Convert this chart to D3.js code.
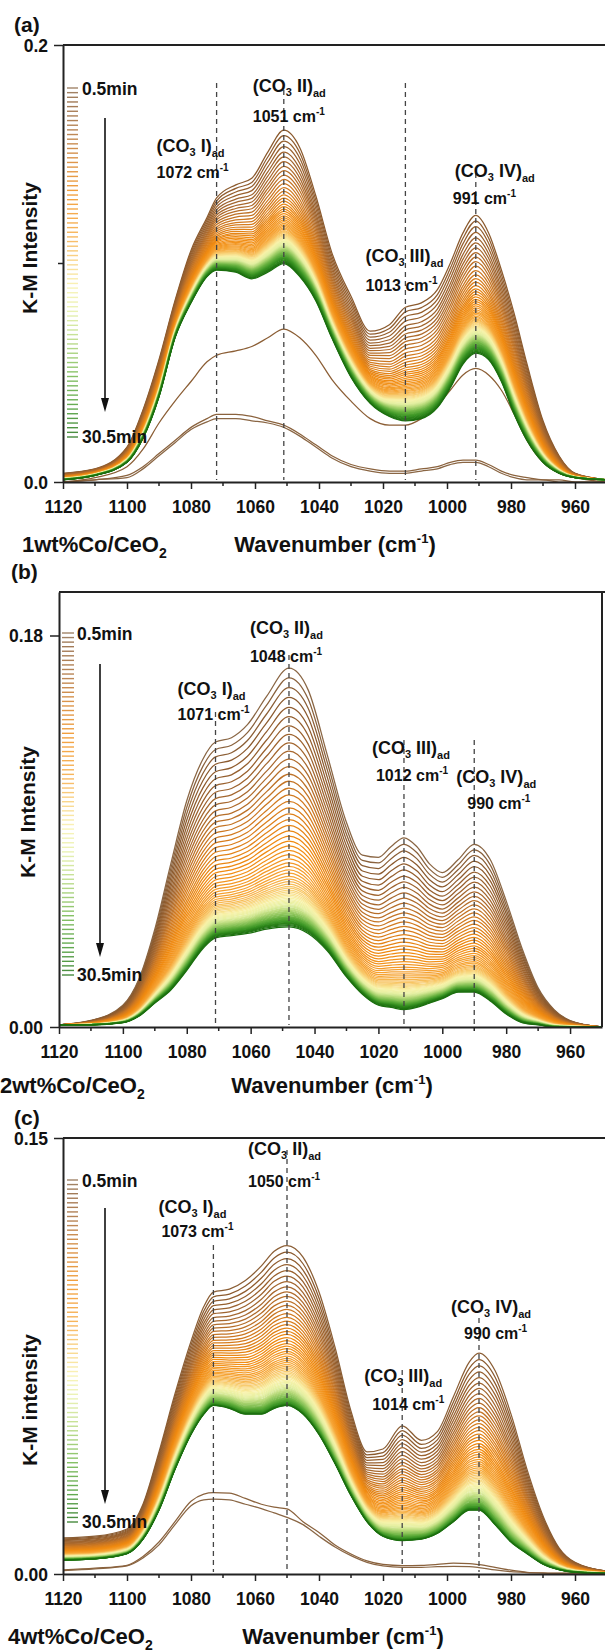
<!DOCTYPE html>
<html>
<head>
<meta charset="utf-8">
<script src="https://cdn.jsdelivr.net/npm/d3@7"></script>
<style>
  body { margin: 0; background: #fff; }
  svg text { font-family: Arial, "Liberation Sans", sans-serif; font-weight: bold; fill: #111; }
</style>
</head>
<body>
<svg id="chart" width="605" height="1652"></svg>
<script>
// ---------- data ----------
// (a) 1wt%Co/CeO2
var wavesA = [1120,1110,1100,1095,1090,1085,1080,1075,1072,1066,1061,1056,1051,1046,1041,1036,1030,1024,1018,1013,1008,1003,999,995,991,987,983,979,975,970,965,960,950];
var topA = [.004,.006,.016,.033,.056,.083,.106,.121,.130,.136,.139,.151,.161,.153,.131,.105,.085,.069,.072,.080,.082,.088,.100,.114,.122,.114,.097,.077,.054,.028,.012,.004,.001];
var endA = [.001,.003,.009,.020,.039,.066,.082,.094,.097,.096,.093,.096,.100,.094,.083,.066,.048,.036,.030,.028,.029,.034,.043,.054,.059,.056,.046,.031,.019,.009,.004,.002,.001];
var lowA1 = [0,.001,.002,.006,.012,.018,.024,.0275,.029,.029,.028,.027,.025,.021,.016,.011,.007,.005,.004,.004,.005,.006,.008,.009,.009,.007,.004,.002,.001,.001,0,0,0];
var lowA2 = [0,.001,.003,.007,.013,.019,.025,.029,.031,.031,.030,.028,.026,.022,.017,.012,.008,.006,.005,.005,.006,.007,.009,.010,.010,.008,.005,.003,.002,.001,.001,0,0];
var lowA3 = [0,.002,.007,.015,.027,.037,.046,.055,.058,.060,.062,.066,.070,.066,.058,.047,.037,.029,.026,.026,.029,.035,.042,.049,.052,.049,.042,.031,.019,.009,.004,.002,0];
// height of every later spectrum at 1051 cm-1, 30.5 min last
var peaksA = [0.161,0.1585,0.156,0.1535,0.151,0.1488,0.1466,0.1445,0.1425,0.1405,0.1385,0.1365,
  0.1347,0.1330,0.1314,0.1299,0.1285,0.1272,0.1260,0.1249,0.1238,0.1228,0.1218,0.1209,0.1200,0.1192,0.1184,0.1177,0.1170,0.1163,0.1157,0.1151,0.1146,0.1141,
  0.1136,0.1131,0.1126,0.1121,0.1116,0.1112,0.1108,0.1104,0.1100,0.1096,0.1092,0.1088,
  0.1084,0.1080,0.1077,0.1074,0.1071,0.1068,0.1065,0.1062,0.1059,0.1056,0.1053,0.1050,0.1047,0.1044,
  0.1041,0.1038,0.1035,0.1032,0.1029,0.1026,0.1023,0.1020,0.1016,0.1012,0.1008,0.1004,0.1000];
var bandsA = [1072, 1051, 1013, 991];

// (b) 2wt%Co/CeO2
var wavesB = [1120,1110,1100,1095,1090,1085,1080,1075,1071,1066,1061,1055,1048,1042,1036,1030,1025,1020,1016,1012,1008,1004,1000,995,990,985,980,975,970,965,960,950];
var topB = [.001,.003,.010,.022,.045,.075,.104,.123,.131,.133,.139,.152,.165,.155,.125,.094,.079,.078,.083,.087,.083,.075,.071,.077,.084,.077,.058,.036,.018,.008,.003,0];
var endB = [.001,.001,.002,.005,.011,.017,.026,.036,.041,.042,.043,.045,.046,.043,.035,.023,.015,.010,.009,.008,.009,.011,.013,.016,.016,.012,.006,.002,.001,0,0,0];
// height of every spectrum at 1048 cm-1
var peaksB = [0.165,0.1605,0.156,0.1515,0.147,0.1427,0.1385,0.1345,0.1306,0.1268,0.1232,0.1197,0.1163,0.1130,0.1098,
  0.1067,0.1037,0.1008,0.0980,0.0953,0.0927,0.0902,0.0878,0.0855,0.0833,0.0812,0.0792,0.0773,0.0755,0.0738,0.0722,0.0707,0.0693,0.0680,0.0668,0.0657,0.0647,
  0.0638,0.0629,0.0621,0.0613,0.0606,0.0599,0.0592,0.0586,0.0580,0.0574,0.0568,0.0563,
  0.0558,0.0553,0.0548,0.0544,0.0540,0.0536,0.0532,0.0528,0.0524,0.0520,0.0516,0.0512,0.0508,0.0505,
  0.0502,0.0499,0.0496,0.0493,0.0490,0.0487,0.0484,0.0481,0.0478,0.0475,0.0471,0.0466,0.0460];
var bandsB = [1071, 1048, 1012, 990];

// (c) 4wt%Co/CeO2
var wavesC = [1120,1110,1100,1095,1090,1085,1080,1076,1073,1068,1063,1058,1054,1050,1045,1040,1035,1030,1025,1020,1014,1008,1003,998,993,990,985,980,975,970,965,960,950];
var topC = [.0124,.013,.0155,.024,.042,.062,.080,.092,.097,.098,.101,.106,.111,.113,.109,.097,.078,.056,.042,.043,.051,.046,.049,.061,.073,.076,.070,.055,.036,.020,.009,.004,.001];
var endC = [.0048,.0052,.007,.012,.022,.036,.048,.055,.058,.057,.055,.055,.057,.058,.055,.048,.038,.027,.018,.013,.0115,.012,.014,.018,.022,.022,.017,.011,.007,.0034,.0015,.0006,.0002];
var lowC1 = [.0012,.0018,.0028,.0055,.010,.017,.0235,.0255,.0258,.0255,.024,.0225,.021,.0195,.017,.013,.0093,.0063,.004,.0028,.0023,.0023,.0025,.0026,.0025,.0022,.0014,.0008,.0005,.0003,.0002,.0002,.0001];
var lowC2 = [.0014,.002,.003,.006,.011,.018,.025,.0275,.028,.0278,.026,.024,.023,.0224,.018,.0143,.010,.0069,.0045,.0033,.0029,.003,.0033,.0037,.0036,.0032,.0023,.0013,.0006,.0004,.0003,.0003,.0002];
// height of every later spectrum at 1050 cm-1
var peaksC = [0.113,0.1107,0.1085,0.1064,0.1044,0.1025,0.1006,0.0988,0.0971,0.0955,0.0939,0.0924,0.0910,
  0.0896,0.0883,0.0870,0.0858,0.0846,0.0835,0.0824,0.0813,0.0803,0.0793,0.0784,0.0775,0.0766,0.0758,0.0750,0.0742,0.0735,0.0728,0.0721,0.0715,0.0709,0.0703,
  0.0697,0.0692,0.0687,0.0682,0.0677,0.0672,0.0667,0.0663,0.0659,0.0655,0.0651,0.0647,
  0.0643,0.0639,0.0635,0.0632,0.0629,0.0626,0.0623,0.0620,0.0617,0.0614,0.0611,0.0608,0.0605,0.0603,
  0.0601,0.0599,0.0597,0.0595,0.0593,0.0591,0.0589,0.0587,0.0585,0.0584,0.0583,0.0581,0.0580];
var bandsC = [1073, 1050, 1014, 990];

var xTicks = [1120,1100,1080,1060,1040,1020,1000,980,960];

// ---------- styles ----------
var colorPos = [0, 0.04, 0.12, 0.2, 0.3, 0.42, 0.5, 0.57, 0.64, 0.72, 0.82, 0.92, 1];
var colorHex = ['#8a6644','#8b5a2e','#a8682e','#d27a1f','#f08a10','#f6a435','#f8d075','#f8f2a8','#e4efa2','#b2d776','#6cb443','#3a9424','#1b6e0e'];
var timeColor = d3.scaleLinear().domain(colorPos).range(colorHex).interpolate(d3.interpolateRgb);

var svg = d3.select('#chart');
var defs = svg.append('defs');

function subText(sel, parts) {
  // parts: [text, kind, shift, size]; kind '', 'sub' or 'sup'
  var shift = 0;
  parts.forEach(function(p) {
    var t = sel.append('tspan').text(p[0]);
    var want = p[1] === 'sub' ? p[2] : p[1] === 'sup' ? -p[2] : 0;
    if (want !== shift) { t.attr('dy', want - shift); shift = want; }
    if (p[1]) t.attr('font-size', p[3]);
  });
}

function drawPanel(p) {
  var x = d3.scaleLinear().domain([1120, 950]).range([p.left, p.right]);
  var y = d3.scaleLinear().domain([0, p.yMax]).range([p.bottom, p.top]);
  var g = svg.append('g');

  defs.append('clipPath').attr('id', 'clip' + p.id)
    .append('rect').attr('x', p.left).attr('y', p.top)
    .attr('width', p.right - p.left).attr('height', p.bottom - p.top);

  // spectra: early ones as read, later ones placed by their peak height
  var k = p.waves.indexOf(p.peakWave);
  var spectra = p.low.slice();
  p.peaks.forEach(function(h) {
    var f = (h - p.endProf[k]) / (p.topProf[k] - p.endProf[k]);
    spectra.push(p.endProf.map(function(e, i) { return e + f * (p.topProf[i] - e); }));
  });
  var n = spectra.length;

  var line = d3.line()
    .x(function(d) { return x(d[0]); })
    .y(function(d) { return y(d[1]); })
    .curve(d3.curveMonotoneX);

  g.append('g').attr('clip-path', 'url(#clip' + p.id + ')')
    .selectAll('path').data(spectra).enter().append('path')
    .attr('d', function(s) { return line(s.map(function(v, i) { return [p.waves[i], v]; })); })
    .attr('fill', 'none')
    .attr('stroke', function(s, i) { return timeColor(i / (n - 1)); })
    .attr('stroke-width', 1.25);

  // band position lines
  g.selectAll('line.band').data(p.bands).enter().append('line')
    .attr('class', 'band')
    .attr('x1', function(b) { return x(b); }).attr('x2', function(b) { return x(b); })
    .attr('y1', function(b, i) { return p.labels[i].lineTop; })
    .attr('y2', p.bottom - 2)
    .attr('stroke', '#444').attr('stroke-width', 1.3).attr('stroke-dasharray', '5,4');

  // axes
  var xAxis = g.append('g').attr('transform', 'translate(0,' + p.bottom + ')')
    .call(d3.axisBottom(x).tickValues(xTicks).tickFormat(d3.format('d'))
      .tickSize(7).tickSizeOuter(0).tickPadding(12));
  xAxis.append('g').selectAll('line').data(xTicks.map(function(t) { return t - 10; }).filter(function(t) { return t > 950; }))
    .enter().append('line')
    .attr('x1', function(t) { return x(t); }).attr('x2', function(t) { return x(t); })
    .attr('y1', 0).attr('y2', 4).attr('stroke', '#222').attr('stroke-width', 1.5);

  var yAxis = g.append('g').attr('transform', 'translate(' + p.left + ',0)')
    .call(d3.axisLeft(y).tickValues(p.yTicks).tickFormat(d3.format(p.fmt))
      .tickSize(9).tickSizeOuter(0).tickPadding(p.yPad));
  p.yMinor.forEach(function(v) {
    yAxis.append('line').attr('x1', -5).attr('x2', 0).attr('y1', y(v)).attr('y2', y(v))
      .attr('stroke', '#222').attr('stroke-width', 1.5);
  });

  [xAxis, yAxis].forEach(function(a) {
    a.attr('font-family', null).attr('font-size', null);
    a.select('.domain').attr('stroke', '#222').attr('stroke-width', 2);
    a.selectAll('.tick line').attr('stroke', '#222').attr('stroke-width', 1.5);
    a.selectAll('.tick text').attr('font-size', 17.5).attr('fill', '#111');
  });
  yAxis.selectAll('.tick text').attr('dy', '0.36em');

  // frame
  g.append('line').attr('x1', p.left).attr('x2', 605).attr('y1', p.top).attr('y2', p.top)
    .attr('stroke', '#222').attr('stroke-width', 2);
  if (p.box) {
    g.append('line').attr('x1', p.right).attr('x2', p.right).attr('y1', p.top).attr('y2', p.bottom)
      .attr('stroke', '#222').attr('stroke-width', 2);
  }

  // legend of time steps
  var ly = d3.scaleLinear().domain([0, n - 1]).range([p.legend.y0, p.legend.y1]);
  g.append('g').selectAll('line').data(d3.range(n)).enter().append('line')
    .attr('x1', p.legend.x0).attr('x2', p.legend.x1)
    .attr('y1', function(i) { return ly(i); }).attr('y2', function(i) { return ly(i); })
    .attr('stroke', function(i) { return timeColor(i / (n - 1)); })
    .attr('stroke-width', 1.4).attr('opacity', 0.8);
  g.append('text').attr('x', p.legend.tx).attr('y', p.legend.y0 + 7).attr('font-size', 17.5).text('0.5min');
  g.append('text').attr('x', p.legend.tx).attr('y', p.legend.y1 + 6).attr('font-size', 17.5).text('30.5min');

  // arrow
  g.append('line').attr('x1', p.arrow.x).attr('x2', p.arrow.x)
    .attr('y1', p.arrow.y0).attr('y2', p.arrow.y1 - 12)
    .attr('stroke', '#111').attr('stroke-width', 1.6);
  g.append('path')
    .attr('d', 'M' + (p.arrow.x - 4) + ',' + (p.arrow.y1 - 14) + 'L' + (p.arrow.x + 4) + ',' + (p.arrow.y1 - 14) +
      'L' + p.arrow.x + ',' + p.arrow.y1 + 'Z')
    .attr('fill', '#111');

  // band labels
  var roman = ['I', 'II', 'III', 'IV'];
  p.bands.forEach(function(b, i) {
    var L = p.labels[i];
    var t1 = g.append('text').attr('x', x(b) + L.dx).attr('y', L.nameY).attr('font-size', 18);
    subText(t1, [['(CO', ''], ['3', 'sub', 4, 11], [' ' + roman[i] + ')', ''], ['ad', 'sub', 5, 11]]);
    var t2 = g.append('text').attr('x', x(b) + L.wdx).attr('y', L.wnY).attr('font-size', 16);
    subText(t2, [[b + ' cm', ''], ['-1', 'sup', 7, 10]]);
  });

  // titles
  g.append('text').attr('x', p.letter.x).attr('y', p.letter.y).attr('font-size', 21).text(p.letter.text);
  g.append('text').attr('transform', 'translate(' + p.yTitle.x + ',' + p.yTitle.y + ') rotate(-90)')
    .attr('text-anchor', 'middle').attr('font-size', 21).text(p.yTitle.text);
  var s = g.append('text').attr('x', p.sample.x).attr('y', p.sample.y).attr('font-size', 22);
  subText(s, [[p.sample.text, ''], ['2', 'sub', 6, 14]]);
  var w = g.append('text').attr('x', p.xTitle.cx).attr('y', p.sample.y).attr('font-size', 22)
    .attr('text-anchor', 'middle');
  subText(w, [['Wavenumber (cm', ''], ['-1', 'sup', 9, 13], [')', '']]);
}

drawPanel({
  id: 'a', left: 63, right: 607, top: 45, bottom: 482, yMax: 0.2,
  yTicks: [0, 0.2], yMinor: [0.1], fmt: '.1f', yPad: 6, box: false,
  waves: wavesA, topProf: topA, endProf: endA, low: [lowA1, lowA2, lowA3], peaks: peaksA, peakWave: 1051,
  bands: bandsA,
  labels: [
    {dx: -60, wdx: -60, nameY: 152, wnY: 178, lineTop: 83},
    {dx: -31, wdx: -31, nameY: 92, wnY: 122, lineTop: 90},
    {dx: -40, wdx: -40, nameY: 262, wnY: 291, lineTop: 83},
    {dx: -21, wdx: -23, nameY: 177, wnY: 204, lineTop: 173}
  ],
  legend: {x0: 67, x1: 78, y0: 88, y1: 437, tx: 82},
  arrow: {x: 105, y0: 118, y1: 412},
  letter: {x: 14, y: 32, text: '(a)'},
  yTitle: {x: 37, y: 248, text: 'K-M Intensity'},
  sample: {x: 22, y: 552, text: '1wt%Co/CeO'},
  xTitle: {cx: 335}
});

drawPanel({
  id: 'b', left: 59, right: 602, top: 592, bottom: 1027, yMax: 0.2,
  yTicks: [0, 0.18], yMinor: [], fmt: '.2f', yPad: 7, box: true,
  waves: wavesB, topProf: topB, endProf: endB, low: [], peaks: peaksB, peakWave: 1048,
  bands: bandsB,
  labels: [
    {dx: -38, wdx: -38, nameY: 695, wnY: 720, lineTop: 712},
    {dx: -39, wdx: -39, nameY: 634, wnY: 662, lineTop: 655},
    {dx: -32, wdx: -28, nameY: 754, wnY: 781, lineTop: 740},
    {dx: -18, wdx: -7, nameY: 783, wnY: 809, lineTop: 740}
  ],
  legend: {x0: 62, x1: 74, y0: 633, y1: 975, tx: 77},
  arrow: {x: 100, y0: 664, y1: 957},
  letter: {x: 11, y: 579, text: '(b)'},
  yTitle: {x: 35, y: 812, text: 'K-M Intensity'},
  sample: {x: 0, y: 1093, text: '2wt%Co/CeO'},
  xTitle: {cx: 332}
});

drawPanel({
  id: 'c', left: 63, right: 607, top: 1138, bottom: 1574, yMax: 0.15,
  yTicks: [0, 0.15], yMinor: [], fmt: '.2f', yPad: 6, box: false,
  waves: wavesC, topProf: topC, endProf: endC, low: [lowC1, lowC2], peaks: peaksC, peakWave: 1050,
  bands: bandsC,
  labels: [
    {dx: -55, wdx: -52, nameY: 1213, wnY: 1237, lineTop: 1245},
    {dx: -39, wdx: -39, nameY: 1155, wnY: 1187, lineTop: 1150},
    {dx: -38, wdx: -30, nameY: 1382, wnY: 1410, lineTop: 1370},
    {dx: -28, wdx: -15, nameY: 1313, wnY: 1339, lineTop: 1318}
  ],
  legend: {x0: 67, x1: 78, y0: 1180, y1: 1522, tx: 82},
  arrow: {x: 105, y0: 1208, y1: 1504},
  letter: {x: 14, y: 1125, text: '(c)'},
  yTitle: {x: 37, y: 1400, text: 'K-M intensity'},
  sample: {x: 8, y: 1644, text: '4wt%Co/CeO'},
  xTitle: {cx: 343}
});
</script>
</body>
</html>
